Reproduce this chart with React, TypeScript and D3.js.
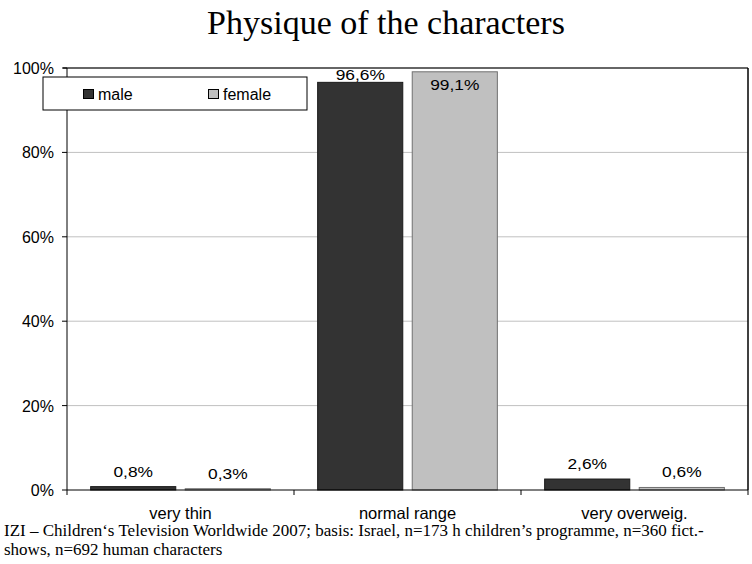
import React from "react";
import * as d3 from "d3";

const categories = ["very thin", "normal range", "very overweig."];
const seriesNames = ["male", "female"];
const maleValues = [0.8, 96.6, 2.6];
const femaleValues = [0.3, 99.1, 0.6];
const yTicks = [0, 20, 40, 60, 80, 100];
const colors = ["#333333", "#c0c0c0"];
const strokes = ["#1a1a1a", "#707070"];
const title = "Physique of the characters";
const footnote1 = "IZI – Children‘s Television Worldwide 2007; basis: Israel, n=173 h children’s programme, n=360 fict.-";
const footnote2 = "shows, n=692 human characters";

export default function App() {
  const W = 752, H = 564;
  const left = 67, right = 748, top = 68, bottom = 490;
  const x = d3.scaleBand().domain(categories).range([left, right]).paddingInner(0).paddingOuter(0);
  const xs = d3.scaleBand().domain(seriesNames).range([0, x.bandwidth()]).paddingInner(0.1).paddingOuter(0.25);
  const y = d3.scaleLinear().domain([0, 100]).range([bottom, top]);
  const fmt = (v: number) => v.toFixed(1).replace(".", ",") + "%";
  const series = [maleValues, femaleValues];
  const sans = "Arial, 'Liberation Sans', sans-serif";
  const serif = "'Times New Roman', 'Liberation Serif', serif";
  return (
    <svg width={W} height={H} style={{ position: "absolute", left: 0, top: 0, background: "#fff" }}>
      <text x={386} y={34} textAnchor="middle" fontFamily={serif} fontSize={34}>{title}</text>
      {yTicks.filter(t => t > 0 && t < 100).map(t => (
        <line key={t} x1={left} x2={right} y1={y(t)} y2={y(t)} stroke="#c0c0c0" strokeWidth={1} />
      ))}
      <line x1={left - 4} x2={right} y1={y(100)} y2={y(100)} stroke="#333" strokeWidth={1.6} />
      {yTicks.map(t => (
        <g key={t}>
          <line x1={left - 5} x2={left} y1={y(t)} y2={y(t)} stroke="#000" />
          <text x={54} y={y(t) + 6} textAnchor="end" fontFamily={sans} fontSize={16}>{t}%</text>
        </g>
      ))}
      {categories.map((c, ci) => (
        <g key={c}>
          {series.map((vals, si) => {
            const bx = (x(c) as number) + (xs(seriesNames[si]) as number);
            const bw = xs.bandwidth();
            const v = vals[ci];
            const by = y(v);
            const inside = by - 10 < top && si === 1;
            const ly = inside ? by + 18 : Math.max(by - 10, top + 12);
            const cx = bx + bw / 2;
            return (
              <g key={si}>
                <rect x={bx} y={by} width={bw} height={bottom - by} fill={colors[si]} stroke={strokes[si]} strokeWidth={1} />
                <text transform={`translate(${cx},${ly}) scale(1.12,1)`} textAnchor="middle" fontFamily={sans} fontSize={15.5}>{fmt(v)}</text>
              </g>
            );
          })}
          <text x={(x(c) as number) + x.bandwidth() / 2} y={519} textAnchor="middle" fontFamily={sans} fontSize={16.5}>{c}</text>
        </g>
      ))}
      <line x1={left} x2={left} y1={top} y2={bottom} stroke="#000" />
      <line x1={left} x2={right} y1={bottom} y2={bottom} stroke="#000" />
      <line x1={right} x2={right} y1={top} y2={bottom} stroke="#000" strokeWidth={1.5} />
      {[...categories.map(c => x(c) as number), right].map((tx, i) => (
        <line key={i} x1={tx} x2={tx} y1={bottom} y2={bottom + 5} stroke="#000" />
      ))}
      <g>
        <rect x={43} y={77} width={264} height={33} fill="#fff" stroke="#000" strokeWidth={1} />
        {seriesNames.map((s, i) => (
          <g key={s}>
            <rect x={83.5 + i * 125} y={89.5} width={10} height={9} fill={colors[i]} stroke="#000" strokeWidth={1} />
            <text x={98 + i * 125} y={99.5} fontFamily={sans} fontSize={16}>{s}</text>
          </g>
        ))}
      </g>
      <text x={4} y={536} fontFamily={serif} fontSize={17}>{footnote1}</text>
      <text x={4} y={555} fontFamily={serif} fontSize={17}>{footnote2}</text>
    </svg>
  );
}
